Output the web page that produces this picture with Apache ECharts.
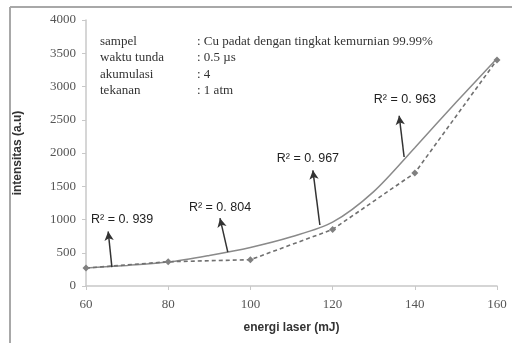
<!DOCTYPE html>
<html>
<head>
<meta charset="utf-8">
<script src="https://cdn.jsdelivr.net/npm/echarts@6/dist/echarts.min.js"></script>
<style>
html,body{margin:0;padding:0;background:#fff;}
#c{width:514px;height:343px;}
</style>
</head>
<body>
<div id="c"></div>
<script>
// measured data (dashed line with markers)
const energy = [60, 80, 100, 120, 140, 160];
const intensity = [270, 365, 395, 850, 1700, 3400];
// trendline (solid)
const trendX = [60, 70, 80, 90, 100, 110, 120, 130, 140, 150, 160];
const trendY = [270, 310, 360, 460, 580, 740, 960, 1420, 2080, 2760, 3420];
// R² annotations: label position and arrow tail/head
const r2Text = ['R\u00b2 = 0. 939', 'R\u00b2 = 0. 804', 'R\u00b2 = 0. 967', 'R\u00b2 = 0. 963'];
const r2Label = [[68.8, 1005], [92.6, 1173], [114, 1910], [137.6, 2797]];
const arrowTail = [[66.3, 285], [94.5, 510], [116.9, 917], [137.4, 1940]];
const arrowHead = [[65.4, 820], [92.6, 1020], [115.2, 1740], [136.2, 2560]];
// info block
const infoKeys = ['sampel', 'waktu tunda', 'akumulasi', 'tekanan'];
const infoVals = [': Cu padat dengan tingkat kemurnian 99.99%', ': 0.5 \u00b5s', ': 4', ': 1 atm'];
const xTicks = {min: 60, max: 160, interval: 20};
const yTicks = {min: 0, max: 4000, interval: 500};

const chart = echarts.init(document.getElementById('c'));
const serif = '"Liberation Serif", "DejaVu Serif", serif';
const sans = '"Liberation Sans", "DejaVu Sans", sans-serif';

const graphics = [
  {type: 'line', shape: {x1: 10, y1: 7, x2: 512, y2: 7}, style: {stroke: '#a8a8a8', lineWidth: 2}},
  {type: 'line', shape: {x1: 10, y1: 7, x2: 10, y2: 343}, style: {stroke: '#a8a8a8', lineWidth: 2}}
];
infoKeys.forEach((k, i) => {
  graphics.push({type: 'text', left: 100, top: 35 + i * 16.5, style: {text: k, font: '13px ' + serif, fill: '#333'}});
  graphics.push({type: 'text', left: 197, top: 35 + i * 16.5, style: {text: infoVals[i], font: '13px ' + serif, fill: '#333'}});
});

chart.setOption({
  animation: false,
  grid: {left: 86, right: 17, top: 20, bottom: 57},
  xAxis: {
    type: 'value', min: xTicks.min, max: xTicks.max, interval: xTicks.interval,
    name: 'energi laser (mJ)', nameLocation: 'middle', nameGap: 36,
    nameTextStyle: {fontFamily: sans, fontWeight: 'bold', fontSize: 12, color: '#333'},
    axisLine: {lineStyle: {color: '#c8c8c8', width: 1.5}},
    axisTick: {show: true, length: 4, inside: false, lineStyle: {color: '#c8c8c8'}},
    axisLabel: {fontFamily: serif, fontSize: 13, color: '#555', margin: 12},
    splitLine: {show: false}
  },
  yAxis: {
    type: 'value', min: yTicks.min, max: yTicks.max, interval: yTicks.interval,
    name: 'intensitas (a.u)', nameLocation: 'middle', nameGap: 62, nameRotate: 90,
    nameTextStyle: {fontFamily: sans, fontWeight: 'bold', fontSize: 12, color: '#333'},
    axisLine: {show: true, lineStyle: {color: '#c8c8c8', width: 1.5}},
    axisTick: {show: true, length: 4, lineStyle: {color: '#c8c8c8'}},
    axisLabel: {fontFamily: serif, fontSize: 13, color: '#555', margin: 10, formatter: v => String(v)},
    splitLine: {show: false}
  },
  graphic: graphics,
  series: [
    {
      type: 'line', smooth: 0.3, showSymbol: false,
      data: trendX.map((x, i) => [x, trendY[i]]),
      lineStyle: {color: '#8a8a8a', width: 1.5}
    },
    {
      type: 'line', symbol: 'diamond', symbolSize: 7,
      data: energy.map((x, i) => [x, intensity[i]]),
      lineStyle: {color: '#707070', width: 1.6, type: [4, 3]},
      itemStyle: {color: '#808080'},
      markLine: {
        silent: true, symbol: ['none', 'arrow'], symbolSize: [7, 9],
        lineStyle: {color: '#333', width: 1.5, type: 'solid'},
        label: {show: false},
        data: arrowTail.map((t, i) => [{coord: t}, {coord: arrowHead[i]}])
      },
      markPoint: {
        silent: true, symbol: 'circle', symbolSize: 0,
        label: {show: true, position: 'inside', fontFamily: sans, fontSize: 12.5, color: '#222', formatter: p => p.name},
        data: r2Label.map((c, i) => ({coord: c, name: r2Text[i]}))
      }
    }
  ]
});
</script>
</body>
</html>
